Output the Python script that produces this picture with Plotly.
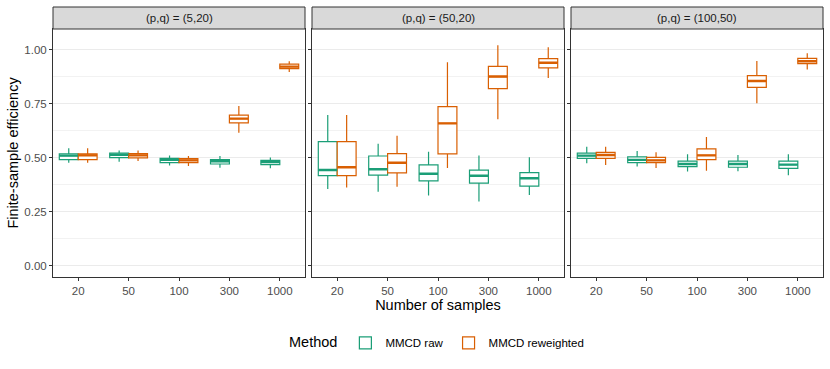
import plotly.graph_objects as go
from plotly.subplots import make_subplots

# facets and x categories
panels = ["(p,q) = (5,20)", "(p,q) = (50,20)", "(p,q) = (100,50)"]
sample_sizes = ["20", "50", "100", "300", "1000"]

# box statistics per panel (rows) and sample size (cols)
raw_low = [[0.478, 0.483, 0.465, 0.455, 0.452],
           [0.356, 0.344, 0.326, 0.298, 0.329],
           [0.475, 0.460, 0.437, 0.438, 0.420]]
raw_q1 = [[0.492, 0.502, 0.478, 0.472, 0.469],
          [0.418, 0.421, 0.394, 0.384, 0.370],
          [0.498, 0.478, 0.460, 0.457, 0.452]]
raw_med = [[0.511, 0.515, 0.491, 0.485, 0.481],
           [0.444, 0.448, 0.427, 0.418, 0.406],
           [0.511, 0.491, 0.472, 0.472, 0.469]]
raw_q3 = [[0.519, 0.522, 0.498, 0.492, 0.489],
          [0.576, 0.509, 0.468, 0.444, 0.432],
          [0.522, 0.505, 0.485, 0.485, 0.485]]
raw_high = [[0.545, 0.534, 0.512, 0.509, 0.502],
            [0.699, 0.566, 0.529, 0.512, 0.503],
            [0.552, 0.532, 0.517, 0.514, 0.517]]

rew_low = [[0.478, 0.486, 0.463, 0.617, 0.898],
           [0.363, 0.367, 0.454, 0.679, 0.870],
           [0.468, 0.454, 0.441, 0.753, 0.909]]
rew_q1 = [[0.492, 0.500, 0.478, 0.662, 0.914],
          [0.418, 0.431, 0.519, 0.821, 0.917],
          [0.498, 0.478, 0.492, 0.827, 0.937]]
rew_med = [[0.512, 0.512, 0.489, 0.682, 0.923],
           [0.457, 0.478, 0.660, 0.877, 0.941],
           [0.514, 0.489, 0.512, 0.856, 0.948]]
rew_q3 = [[0.519, 0.520, 0.497, 0.698, 0.934],
          [0.576, 0.520, 0.738, 0.924, 0.960],
          [0.526, 0.503, 0.542, 0.881, 0.961]]
rew_high = [[0.545, 0.534, 0.509, 0.741, 0.948],
            [0.699, 0.603, 0.943, 1.022, 1.012],
            [0.552, 0.526, 0.597, 0.949, 0.985]]

methods = [
    ("MMCD raw", "#1B9E77", raw_low, raw_q1, raw_med, raw_q3, raw_high),
    ("MMCD reweighted", "#D95F02", rew_low, rew_q1, rew_med, rew_q3, rew_high),
]

W, H = 830, 369
ml, mr, mt, mb = 53, 7, 29, 92
pw = W - ml - mr
ph = H - mt - mb

fig = make_subplots(rows=1, cols=3, shared_yaxes=True,
                    horizontal_spacing=7 / pw)

for i in range(3):
    for name, col, lo, q1, med, q3, hi in methods:
        fig.add_trace(go.Box(
            x=sample_sizes,
            lowerfence=lo[i], q1=q1[i], median=med[i], q3=q3[i], upperfence=hi[i],
            name=name, legendgroup=name, showlegend=(i == 0),
            alignmentgroup=f"p{i}", offsetgroup=name,
            line=dict(color=col, width=1.2), fillcolor="white",
            whiskerwidth=0, boxpoints=False, hoverinfo="skip",
        ), row=1, col=i + 1)
    # thicker median bar, like ggplot's fatten
    for name, col, lo, q1, med, q3, hi in methods:
        fig.add_trace(go.Box(
            x=sample_sizes,
            lowerfence=med[i], q1=med[i], median=med[i], q3=med[i], upperfence=med[i],
            name=name, legendgroup=name, showlegend=False,
            alignmentgroup=f"p{i}", offsetgroup=name,
            line=dict(color=col, width=2.4), fillcolor="rgba(0,0,0,0)",
            whiskerwidth=0, boxpoints=False, hoverinfo="skip",
        ), row=1, col=i + 1)

    xa = "x" if i == 0 else f"x{i + 1}"
    # strip header
    fig.add_shape(type="rect", xref=f"{xa} domain", yref="paper",
                  x0=0, x1=1, y0=1, y1=1 + 22 / ph,
                  fillcolor="#D9D9D9", line=dict(color="#333333", width=1))
    fig.add_annotation(text=panels[i], xref=f"{xa} domain", yref="paper",
                       x=0.5, y=1 + 11 / ph, xanchor="center", yanchor="middle",
                       showarrow=False, font=dict(size=11.5, color="#1A1A1A"))

fig.update_xaxes(
    showgrid=False, showline=True, mirror=True, linecolor="#333333", linewidth=1,
    ticks="outside", ticklen=3, tickcolor="#333333", automargin=False,
    tickfont=dict(size=11.5, color="#4D4D4D"), zeroline=False,
)
fig.update_yaxes(
    range=[-0.051, 1.097], dtick=0.25, tick0=0, tickformat=".2f",
    showgrid=True, gridcolor="#EBEBEB", gridwidth=1,
    minor=dict(dtick=0.125, tick0=0, showgrid=True, gridcolor="#F2F2F2", gridwidth=0.6),
    showline=True, mirror=True, linecolor="#333333", linewidth=1, zeroline=False,
    ticks="outside", ticklen=3, tickcolor="#333333", automargin=False,
    tickfont=dict(size=11.5, color="#4D4D4D"),
)
fig.update_yaxes(title=dict(text="Finite-sample efficiency", font=dict(size=14.5, color="black"),
                            standoff=2), row=1, col=1)
fig.update_xaxes(title=dict(text="Number of samples", font=dict(size=14.5, color="black"),
                            standoff=2), row=1, col=2)

fig.update_layout(
    width=W, height=H,
    boxmode="group", boxgap=0.25, boxgroupgap=0,
    plot_bgcolor="white", paper_bgcolor="white",
    font=dict(family="Liberation Sans, Arial, sans-serif", size=11.5, color="black"),
    margin=dict(l=ml, r=mr, t=mt, b=mb, autoexpand=False),
    legend=dict(orientation="h", x=0.5, xanchor="center", y=-0.266, yanchor="middle",
                title=dict(text="Method", font=dict(size=14.5)),
                font=dict(size=11.5), itemwidth=30),
)

# drop the browser's default 8px body margin so the figure sits at 0,0
fig.write_html("out.html", config={"displayModeBar": False},
               post_script="document.body.style.margin='0';")
